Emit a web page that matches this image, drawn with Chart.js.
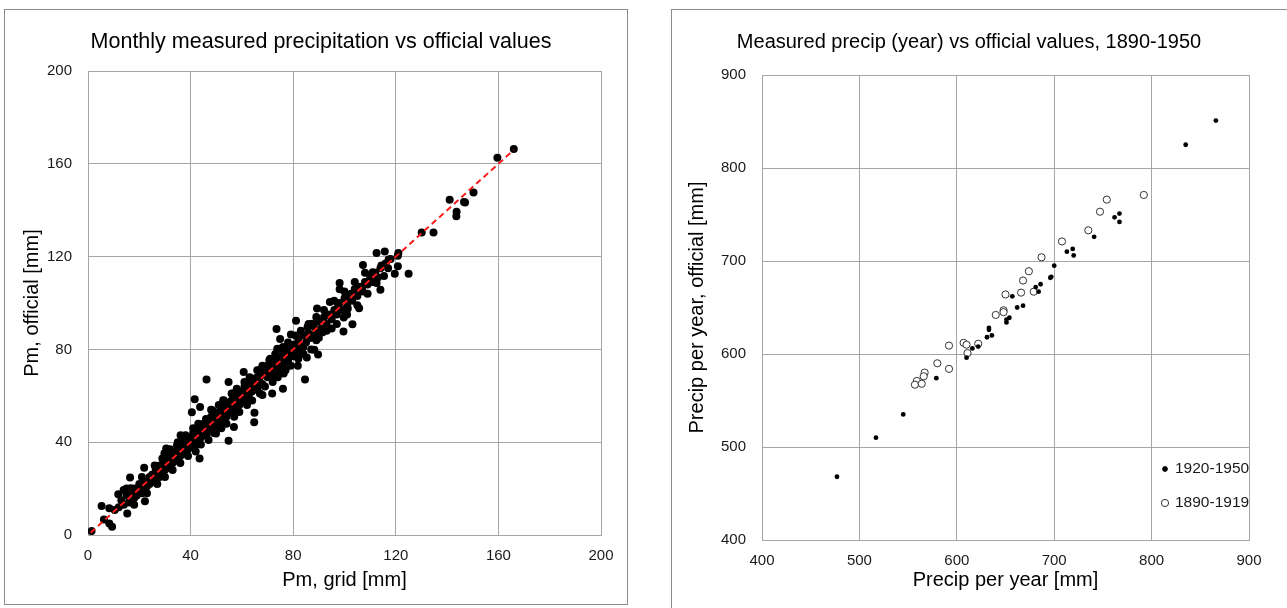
<!DOCTYPE html>
<html>
<head>
<meta charset="utf-8">
<title>Precipitation: measured vs official</title>
<script src="https://cdn.jsdelivr.net/npm/chart.js@4.4.1/dist/chart.umd.min.js"></script>
<style>
    body { margin: 0; background: #fff; width: 1287px; height: 608px; overflow: hidden; position: relative; }
    .box { position: absolute; border: 1px solid #8c8c8c; background: #fff; }
    #boxLeft { left: 4px; top: 9px; width: 622px; height: 594px; }
    #boxRight { left: 671px; top: 9px; width: 620px; height: 604px; }
    canvas { display: block; }
</style>
</head>
<body>
<div class="box" id="boxLeft"><canvas id="monthlyChart" width="622" height="594"></canvas></div>
<div class="box" id="boxRight"><canvas id="yearlyChart" width="614" height="598"></canvas></div>
<script>
// Monthly values: [Pm grid, Pm official] in mm
const monthlyPoints = [
    [166, 166.4], [159.6, 162.6], [150.3, 147.6], [141, 144.5], [146.6, 143.5], [147, 143.3],
    [143.7, 139.3], [143.6, 137.4], [134.7, 130.4], [130.1, 130.4],
    [121, 121.5], [125, 112.6], [112.5, 121.5], [115.7, 122.2], [120.8, 120.4], [117.2, 118.7],
    [114.4, 116.2], [107.2, 116.4], [120.8, 115.8], [119.6, 112.6], [115.4, 111.6], [111, 113.3],
    [112.5, 108.6], [114, 105.7], [98.1, 108.6], [98.1, 105.9], [102.6, 104], [106.9, 105.5],
    [101, 101.4], [105.7, 97.7], [101.3, 97.6], [94.3, 100.4], [89.3, 97.6], [97.5, 98.6],
    [96.3, 95.4], [94.3, 94.7], [99.7, 93.7], [103.1, 90.8], [99.6, 87.7], [95, 89],
    [91.5, 87.4], [87.4, 91.1], [85.6, 89.7], [81.1, 92.3], [73.5, 88.8], [74.9, 84.5],
    [79.1, 86.4], [86.4, 84.9], [89, 83.9], [89.7, 77.8], [88.2, 79.9], [85.3, 76.5],
    [81.8, 73], [84.6, 67], [77.7, 78.2], [76.3, 74.6], [80.4, 78.2], [73.8, 80.3],
    [70.7, 75.3], [72.1, 72.5], [76.3, 69.6], [76, 63], [71.8, 61], [68, 60.3],
    [66.6, 71], [64.5, 67.4], [60.7, 70.3], [46.2, 67], [64.9, 52.7], [64.8, 48.6],
    [54.8, 40.6], [43.5, 33], [41.6, 58.5], [40.5, 52.9], [43.7, 55.2], [54.8, 66],
    [56.6, 61], [58.3, 57.4], [61, 62.4], [52.7, 58.1], [48.5, 53.8], [47.1, 49.5],
    [51.3, 47.3], [56.9, 46.6], [49.9, 43.8], [44.4, 43.8], [36.1, 43], [34.7, 38.7],
    [30.5, 37.3], [29.8, 35.2], [21.9, 29], [16.4, 24.8], [11.8, 17.6], [5.3, 12.5],
    [8.3, 11.5], [15.3, 9.3], [22.2, 14.6], [8.3, 5], [9.4, 3.6], [1.4, 1.7],
    [6.2, 6.7], [10.4, 10.8], [13.9, 19.4], [16.6, 20.1], [25, 23.7], [26.4, 28],
    [29.1, 30.1], [33.3, 32.3], [37.4, 35.2],
    [12, 12], [13, 15], [14, 13], [15, 17], [16, 14], [17, 18], [18, 16], [18, 20],
    [19, 17], [20, 22], [20, 19], [21, 18], [22, 23], [22, 20], [23, 21], [24, 25],
    [24, 22], [25, 26], [25, 23], [26, 24], [27, 29], [27, 26], [28, 25], [28, 30],
    [29, 27], [30, 31], [30, 28], [31, 29], [31, 33], [32, 30], [32, 34], [33, 31],
    [34, 35], [34, 32], [35, 37], [35, 33], [36, 34], [36, 38], [37, 36], [37, 40],
    [38, 35], [38, 39], [39, 41], [39, 37], [40, 42], [40, 38], [41, 40], [41, 44],
    [42, 39], [42, 43], [43, 45], [43, 41], [44, 47], [44, 42], [45, 44], [45, 48],
    [46, 43], [46, 46], [47, 49], [47, 45], [48, 51], [48, 46], [49, 48], [49, 52],
    [50, 47], [50, 50], [51, 53], [51, 49], [52, 55], [52, 50], [53, 52], [53, 56],
    [54, 51], [54, 54], [55, 57], [55, 53], [56, 58], [56, 55], [57, 54], [57, 60],
    [58, 57], [58, 61], [59, 56], [59, 59], [60, 62], [60, 58], [61, 60], [61, 64],
    [62, 59], [62, 63], [63, 65], [63, 61], [64, 62], [64, 67], [65, 64], [66, 68],
    [66, 63], [67, 66], [67, 70], [68, 65], [68, 69], [69, 71], [70, 68], [70, 73],
    [71, 70], [72, 74], [72, 69], [73, 72], [74, 76], [74, 71], [75, 74], [76, 78],
    [76, 73], [77, 76], [78, 80], [78, 75], [79, 78], [80, 82], [80, 77], [81, 80],
    [82, 84], [82, 79], [83, 82], [84, 86], [84, 81], [85, 83], [86, 87], [87, 85],
    [88, 90], [88, 86], [89, 88], [90, 92], [91, 89], [92, 94], [93, 91], [94, 95],
    [95, 93], [96, 97], [97, 95], [98, 100], [99, 97], [100, 102], [101, 99], [102, 103],
    [103, 101], [104, 106], [105, 103], [106, 107], [107, 105], [108, 109], [109, 108],
    [110, 111], [111, 109], [112, 113], [113, 111], [114, 115], [116, 117], [117, 115], [118, 119],
    [15, 20], [18, 13], [21, 25], [23, 18], [26, 30], [27, 22], [29, 33], [30, 25],
    [32, 37], [33, 28], [35, 40], [36, 31], [38, 43], [39, 34], [41, 46], [42, 36],
    [43, 48], [44, 39], [46, 50], [47, 41], [48, 54], [49, 44], [51, 56], [52, 46],
    [53, 58], [54, 48], [56, 61], [57, 51], [58, 63], [59, 53], [61, 66], [62, 56],
    [63, 68], [64, 58], [66, 71], [67, 61], [68, 73], [69, 64], [71, 76], [72, 66],
    [73, 78], [74, 68], [76, 81], [77, 71], [78, 83], [79, 73], [81, 86], [82, 76],
    [83, 88], [84, 78], [86, 91], [87, 80], [89, 94], [90, 85], [92, 97], [93, 88],
    [96, 101], [97, 91], [100, 105], [101, 95], [104, 109], [105, 99], [108, 113], [109, 104],
    [44, 45], [45, 46], [50, 52], [55, 55], [60, 60], [65, 66], [40, 40], [37, 38], [58, 59]
];
// 1:1 reference line
const identityLine = [[1, 1], [166, 166]];

// Yearly totals: [measured, official] in mm
const years1920to1950 = [
    [866, 851], [835, 825], [767, 751], [762, 747], [767, 742], [741, 726], [719, 713], [713, 710],
    [720, 706], [700, 695], [697, 683], [696, 682], [686, 675], [681, 672], [684, 667], [668, 652],
    [662, 650], [657, 662], [654, 639], [651, 637], [651, 634], [633, 628], [633, 626], [636, 620],
    [631, 618], [616, 606], [622, 608], [610, 596], [579, 574], [545, 535], [517, 510], [477, 468]
];
const years1890to1919 = [
    [792, 771], [754, 766], [747, 753], [735, 733], [708, 721], [687, 704], [674, 689], [668, 679],
    [666, 666], [679, 667], [650, 664], [648, 647], [648, 645], [640, 642], [622, 611], [607, 612],
    [610, 610], [611, 601], [592, 609], [580, 590], [592, 584], [567, 580], [566, 576], [559, 571],
    [557, 567], [564, 568]
];

const monthlyTicks = { min: 0, max: 200, step: 40 };
const yearlyTicks = { min: 400, max: 900, step: 100 };

const FONT = "'Liberation Sans', Arial, sans-serif";
const GRID = '#a6a6a6';
Chart.defaults.font.family = FONT;
Chart.defaults.color = '#000';

const toXY = pts => pts.map(p => ({ x: p[0], y: p[1] }));

function makeAxis(range, title, fixedSize, isX, tickPad, titlePad) {
    return {
        type: 'linear',
        min: range.min,
        max: range.max,
        grid: { color: GRID, drawTicks: false },
        border: { color: GRID },
        ticks: { stepSize: range.step, padding: tickPad, font: { size: 15 }, color: '#1a1a1a' },
        title: { display: true, text: title, font: { size: 20 }, padding: titlePad },
        afterFit: scale => {
            if (isX) scale.height = fixedSize; else scale.width = fixedSize;
        }
    };
}

// chart heading, centred over the whole frame rather than the plot
const boxTitle = {
    id: 'boxTitle',
    afterDraw(chart, args, opts) {
        const ctx = chart.ctx;
        ctx.save();
        ctx.font = opts.size + 'px ' + FONT;
        ctx.fillStyle = '#000';
        ctx.textAlign = 'center';
        ctx.textBaseline = 'middle';
        ctx.fillText(opts.text, opts.x, opts.y);
        ctx.restore();
    }
};

// legend drawn inside the plot, bottom right
const insideLegend = {
    id: 'insideLegend',
    afterDraw(chart) {
        const { ctx, chartArea } = chart;
        chart.data.datasets.forEach((ds, i) => {
            const x = chartArea.right - 84;
            const y = chartArea.bottom - 71 + i * 34;
            ctx.save();
            ctx.beginPath();
            ctx.arc(x, y, ds.pointRadius, 0, Math.PI * 2);
            ctx.fillStyle = ds.backgroundColor;
            ctx.fill();
            ctx.lineWidth = ds.borderWidth;
            ctx.strokeStyle = ds.borderColor;
            ctx.stroke();
            ctx.fillStyle = '#1a1a1a';
            ctx.font = '15.5px ' + FONT;
            ctx.textBaseline = 'middle';
            ctx.fillText(ds.label, x + 10, y);
            ctx.restore();
        });
    }
};

new Chart(document.getElementById('monthlyChart'), {
    type: 'scatter',
    data: {
        datasets: [
            {
                type: 'line',
                data: toXY(identityLine),
                borderColor: '#ff1a1a',
                borderWidth: 2,
                borderDash: [6, 4],
                pointRadius: 0,
                fill: false
            },
            {
                data: toXY(monthlyPoints),
                pointRadius: 4,
                backgroundColor: '#000',
                borderColor: '#000',
                borderWidth: 0
            }
        ]
    },
    options: {
        responsive: false,
        animation: false,
        layout: { padding: { left: 0, right: 26, top: 61, bottom: 0 } },
        plugins: {
            legend: { display: false },
            tooltip: { enabled: false },
            boxTitle: { text: 'Monthly measured precipitation vs official values', size: 21.5, x: 316, y: 32 }
        },
        scales: {
            x: makeAxis(monthlyTicks, 'Pm, grid [mm]', 69, true, 12, { top: 4, bottom: 12 }),
            y: makeAxis(monthlyTicks, 'Pm, official [mm]', 83, false, 16, { top: 15, bottom: 0 })
        }
    },
    plugins: [boxTitle]
});

new Chart(document.getElementById('yearlyChart'), {
    type: 'scatter',
    data: {
        datasets: [
            {
                label: '1920-1950',
                data: toXY(years1920to1950),
                pointRadius: 2.4,
                backgroundColor: '#000',
                borderColor: '#000',
                borderWidth: 0
            },
            {
                label: '1890-1919',
                data: toXY(years1890to1919),
                pointRadius: 3.6,
                backgroundColor: '#fff',
                borderColor: '#333',
                borderWidth: 1
            }
        ]
    },
    options: {
        responsive: false,
        animation: false,
        layout: { padding: { left: 0, right: 37, top: 65, bottom: 0 } },
        plugins: {
            legend: { display: false },
            tooltip: { enabled: false },
            boxTitle: { text: 'Measured precip (year) vs official values, 1890-1950', size: 20, x: 297, y: 32 }
        },
        scales: {
            x: makeAxis(yearlyTicks, 'Precip per year [mm]', 68, true, 12, { top: 4, bottom: 16 }),
            y: makeAxis(yearlyTicks, 'Precip per year, official [mm]', 90, false, 16, { top: 13, bottom: 0 })
        }
    },
    plugins: [boxTitle, insideLegend]
});
</script>
</body>
</html>
